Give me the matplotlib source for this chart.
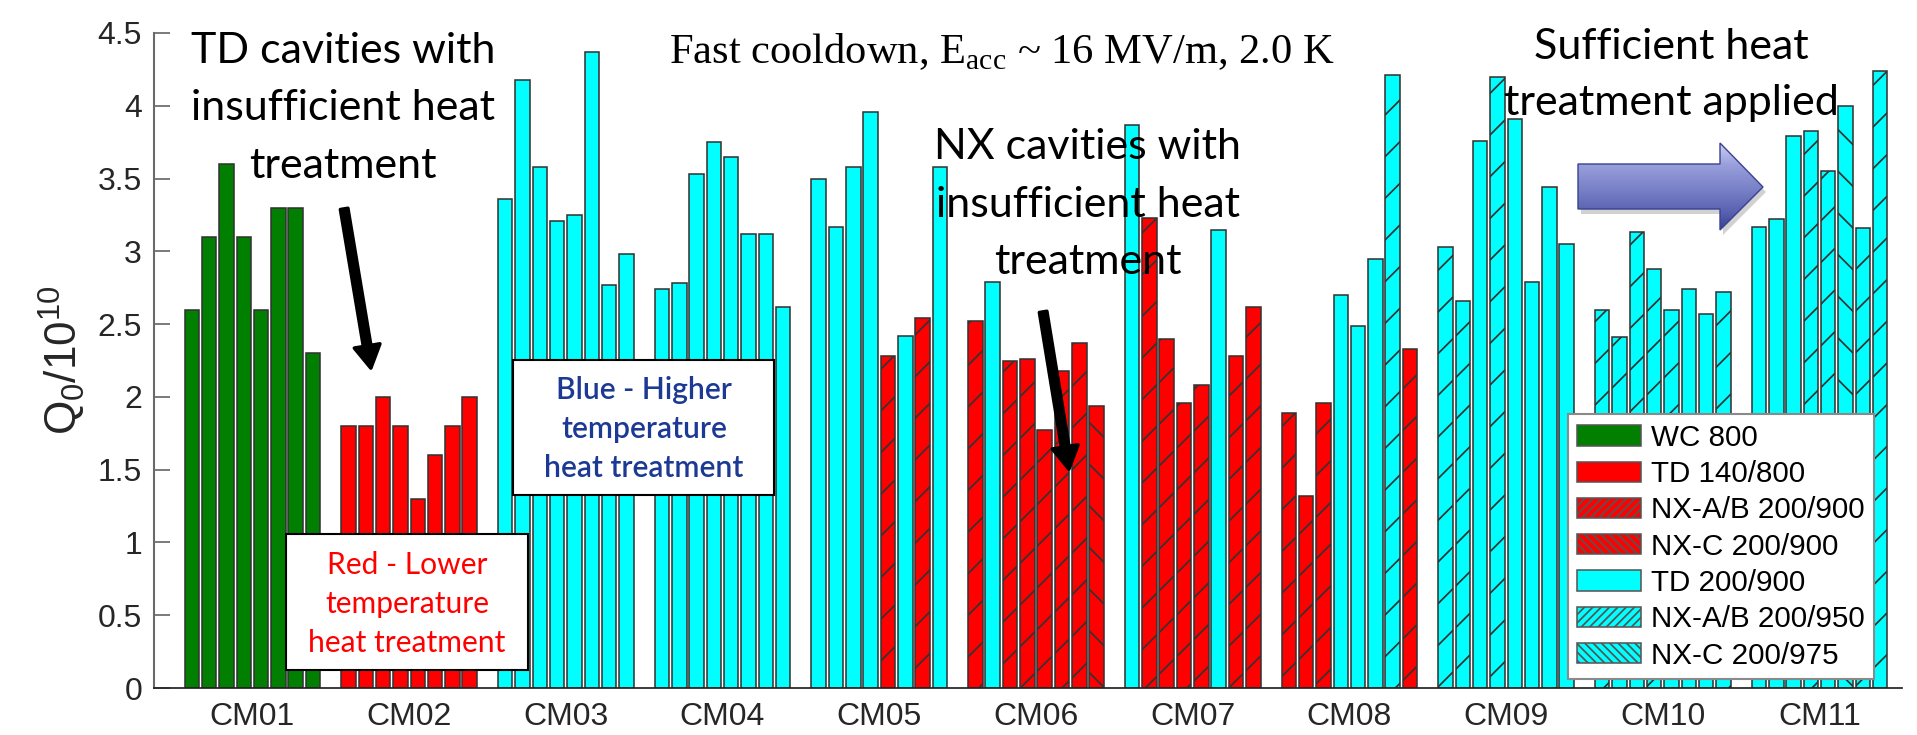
import numpy as np
import matplotlib
matplotlib.use('Agg')
import matplotlib.pyplot as plt
from matplotlib.patches import Patch, Rectangle, Polygon, FancyArrowPatch
from matplotlib.colors import LinearSegmentedColormap

# ---------------- data ----------------
groups = ['CM01', 'CM02', 'CM03', 'CM04', 'CM05', 'CM06',
          'CM07', 'CM08', 'CM09', 'CM10', 'CM11']

q0_cm01 = [2.60, 3.10, 3.60, 3.10, 2.60, 3.30, 3.30, 2.30]
q0_cm02 = [1.80, 1.80, 2.00, 1.80, 1.30, 1.60, 1.80, 2.00]
q0_cm03 = [3.36, 4.18, 3.58, 3.21, 3.25, 4.37, 2.77, 2.98]
q0_cm04 = [2.74, 2.78, 3.53, 3.75, 3.65, 3.12, 3.12, 2.62]
q0_cm05 = [3.50, 3.17, 3.58, 3.96, 2.28, 2.42, 2.54, 3.58]
q0_cm06 = [2.52, 2.79, 2.25, 2.26, 1.77, 2.18, 2.37, 1.94]
q0_cm07 = [3.87, 3.23, 2.40, 1.96, 2.08, 3.15, 2.28, 2.62]
q0_cm08 = [1.89, 1.32, 1.96, 2.70, 2.49, 2.95, 4.21, 2.33]
q0_cm09 = [3.03, 2.66, 3.76, 4.20, 3.91, 2.79, 3.44, 3.05]
q0_cm10 = [2.60, 2.41, 3.13, 2.88, 2.60, 2.74, 2.57, 2.72]
q0_cm11 = [3.17, 3.22, 3.79, 3.83, 3.55, 4.00, 3.16, 4.24]

type_cm01 = ['WC800'] * 8
type_cm02 = ['TD140'] * 8
type_cm03 = ['TD900'] * 8
type_cm04 = ['TD900'] * 8
type_cm05 = ['TD900', 'TD900', 'TD900', 'TD900', 'NXAB900', 'TD900', 'NXAB900', 'TD900']
type_cm06 = ['NXAB900', 'TD900', 'NXAB900', 'NXAB900', 'NXAB900', 'NXAB900', 'NXAB900', 'NXC900']
type_cm07 = ['TD900', 'NXAB900', 'NXAB900', 'NXAB900', 'NXAB900', 'TD900', 'NXAB900', 'NXAB900']
type_cm08 = ['NXAB900', 'NXAB900', 'NXAB900', 'TD900', 'TD900', 'TD900', 'NXAB950', 'NXAB900']
type_cm09 = ['NXAB950', 'NXAB950', 'TD900', 'NXAB950', 'TD900', 'TD900', 'TD900', 'TD900']
type_cm10 = ['NXAB950', 'NXAB950', 'NXAB950', 'NXAB950', 'NXAB950', 'TD900', 'TD900', 'NXAB950']
type_cm11 = ['TD900', 'TD900', 'TD900', 'NXAB950', 'NXAB950', 'NXC975', 'NXAB950', 'NXAB950']

type_keys = ['WC800', 'TD140', 'NXAB900', 'NXC900', 'TD900', 'NXAB950', 'NXC975']
type_labels = ['WC 800', 'TD 140/800', 'NX-A/B 200/900', 'NX-C 200/900',
               'TD 200/900', 'NX-A/B 200/950', 'NX-C 200/975']
y_ticks = [0, 0.5, 1, 1.5, 2, 2.5, 3, 3.5, 4, 4.5]
y_ticklabels = ['0', '0.5', '1', '1.5', '2', '2.5', '3', '3.5', '4', '4.5']

q0_all = [q0_cm01, q0_cm02, q0_cm03, q0_cm04, q0_cm05, q0_cm06,
          q0_cm07, q0_cm08, q0_cm09, q0_cm10, q0_cm11]
type_all = [type_cm01, type_cm02, type_cm03, type_cm04, type_cm05, type_cm06,
            type_cm07, type_cm08, type_cm09, type_cm10, type_cm11]

# ---------------- style ----------------
GREEN, RED, CYAN = '#007f00', '#ff0000', '#00ffff'
style = {
    'WC800': (GREEN, ''), 'TD140': (RED, ''), 'NXAB900': (RED, '/'),
    'NXC900': (RED, '\\'), 'TD900': (CYAN, ''), 'NXAB950': (CYAN, '/'),
    'NXC975': (CYAN, '\\'),
}
EDGE = '#333333'

DPI = 250
W, H = 1917, 735


def pt(px):
    return px * 72.0 / DPI


plt.rcParams['hatch.linewidth'] = 0.5
plt.rcParams['font.family'] = ['Liberation Sans', 'DejaVu Sans']

fig = plt.figure(figsize=(W / DPI, H / DPI), dpi=DPI)
ax_l, ax_r, ax_t, ax_b = 154, 1902, 33, 688
ax = fig.add_axes([ax_l / W, 1 - ax_b / H, (ax_r - ax_l) / W, (ax_b - ax_t) / H])

slot = 0.1105
width = 0.0925
n_per = 8
for key in type_keys:
    xs, ys = [], []
    for gi, (vals, typs) in enumerate(zip(q0_all, type_all)):
        for bi, (v, t) in enumerate(zip(vals, typs)):
            if t == key:
                xs.append(gi + 1 + (bi - (n_per - 1) / 2) * slot)
                ys.append(v)
    col, hat = style[key]
    if xs:
        ax.bar(xs, ys, width=width, color=col, edgecolor=EDGE, linewidth=0.45,
               hatch=hat * 2, zorder=2)

ax.set_xlim(0.372, 11.526)
ax.set_ylim(0, 4.5)
ax.set_yticks(y_ticks)
ax.set_yticklabels(y_ticklabels)
ax.set_xticks(np.arange(1, len(groups) + 1))
ax.set_xticklabels(groups)
for s in ['top', 'right']:
    ax.spines[s].set_visible(False)
ax.spines['left'].set_color('#6a6a6a')
ax.spines['left'].set_linewidth(0.6)
ax.spines['bottom'].set_color('#222222')
ax.spines['bottom'].set_linewidth(0.5)
ax.tick_params(axis='y', direction='in', length=pt(16), width=0.5, color='#6a6a6a',
               labelsize=pt(32), labelcolor='#262626', pad=pt(12))
ax.tick_params(axis='x', length=0, labelsize=pt(32), labelcolor='#262626', pad=pt(14))
ax.set_ylabel(r'$\mathregular{Q_0/10^{10}}$', fontsize=pt(44), color='#262626', labelpad=pt(10))

handles = [Patch(facecolor=style[k][0], edgecolor='#555555', hatch=style[k][1] * 10, linewidth=0.45)
           for k in type_keys]
leg = ax.legend(handles, type_labels, loc='lower left',
                bbox_to_anchor=((1568 - ax_l) / (ax_r - ax_l), (ax_b - 679) / (ax_b - ax_t)),
                borderaxespad=0, fontsize=pt(29.6), handlelength=2.13, handleheight=0.68,
                handletextpad=0.34, labelspacing=0.28, borderpad=0.32, fancybox=False,
                framealpha=1)
leg.get_frame().set_edgecolor('#8a8a8a')
leg.get_frame().set_linewidth(0.6)

# ---------------- overlay annotations (pixel coordinates) ----------------
oax = fig.add_axes([0, 0, 1, 1], zorder=5)
oax.set_xlim(0, W)
oax.set_ylim(H, 0)
oax.axis('off')
oax.patch.set_alpha(0)

ANN = ['Lato', 'DejaVu Sans']


def lines(x, baselines, texts, size_px, color='black', family=ANN, weight='normal'):
    for b, t in zip(baselines, texts):
        oax.text(x, b, t, ha='center', va='baseline', fontsize=pt(size_px),
                 color=color, family=family, fontweight=weight, zorder=10)


lines(343, [63, 120, 178], ['TD cavities with', 'insufficient heat', 'treatment'], 43)
lines(1088, [159, 217, 274], ['NX cavities with', 'insufficient heat', 'treatment'], 43)
lines(1671, [59, 115], ['Sufficient heat', 'treatment applied'], 43)

oax.text(1002, 63, r'Fast cooldown, E$_{\mathregular{acc}}$ ~ 16 MV/m, 2.0 K',
         ha='center', va='baseline', fontsize=pt(42.5), family=['Liberation Serif'],
         color='black', zorder=10)

# text boxes
oax.add_patch(Rectangle((286, 534), 528 - 286, 670 - 534, facecolor='white',
                        edgecolor='black', linewidth=0.6, zorder=8))
lines(407, [574, 613, 652], ['Red - Lower', 'temperature', 'heat treatment'], 30, color=RED)
oax.add_patch(Rectangle((513, 360), 774 - 513, 495 - 360, facecolor='white',
                        edgecolor='black', linewidth=0.6, zorder=8))
lines(644, [399, 438, 477], ['Blue - Higher', 'temperature', 'heat treatment'], 30,
      color='#1c3a94', weight='semibold')

# black arrows
for (xa, ya), (xb, yb) in [((343, 202), (372, 375)), ((1042, 305), (1070, 476))]:
    oax.add_patch(FancyArrowPatch((xa, ya), (xb, yb),
                                  arrowstyle='simple,head_length=0.65,head_width=0.75,tail_width=0.22',
                                  mutation_scale=10, color='black', zorder=9))

# big blue block arrow with gradient
arrow_pts = [(1578, 164), (1720, 164), (1720, 143), (1763, 187), (1720, 230),
             (1720, 209), (1578, 209)]
shadow = Polygon([(x + 3, y + 5) for x, y in arrow_pts], closed=True,
                 facecolor='#000000', alpha=0.18, edgecolor='none', zorder=6)
oax.add_patch(shadow)
poly = Polygon(arrow_pts, closed=True, facecolor='none', edgecolor='#3a4190',
               linewidth=0.4, zorder=8)
oax.add_patch(poly)
cmap = LinearSegmentedColormap.from_list('arr', ['#d2d5f5', '#9aa0dc', '#7a82c8', '#5a62b2', '#2e3584'])
grad = np.linspace(0, 1, 100).reshape(-1, 1)
im = oax.imshow(grad, extent=[1570, 1770, 236, 140], cmap=cmap, aspect='auto',
                origin='upper', zorder=7, interpolation='bilinear')
im.set_clip_path(poly)
oax.set_xlim(0, W)
oax.set_ylim(H, 0)

fig.savefig('out.png', dpi=DPI)
